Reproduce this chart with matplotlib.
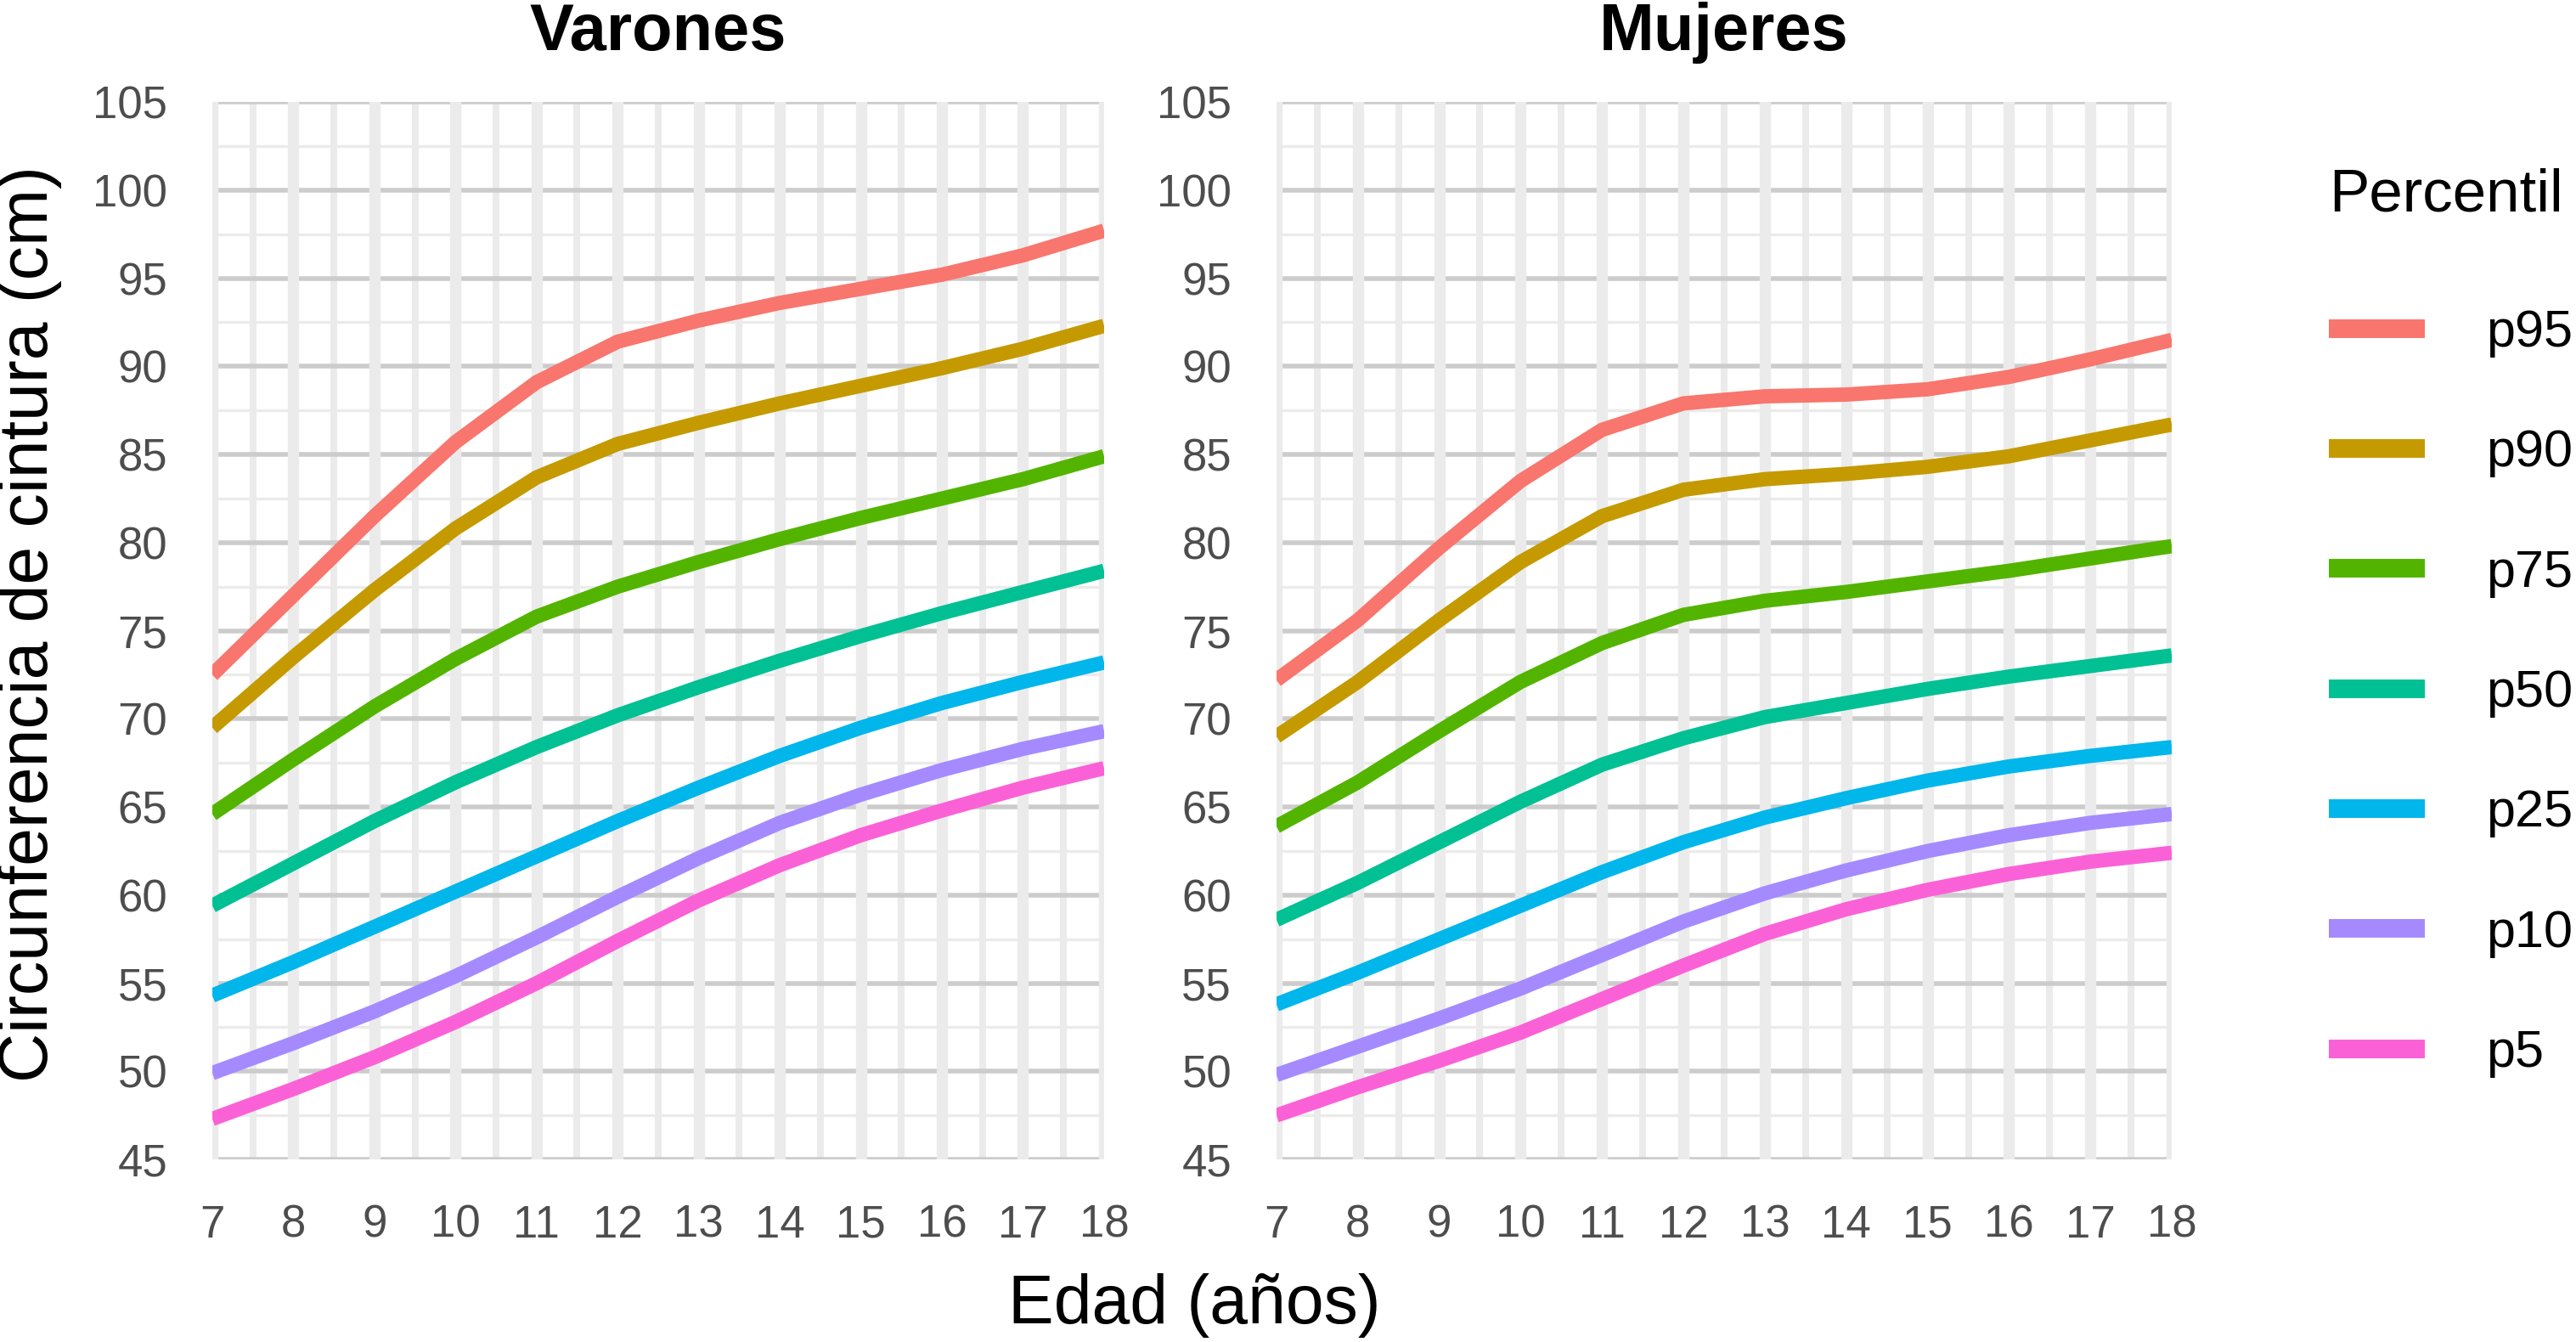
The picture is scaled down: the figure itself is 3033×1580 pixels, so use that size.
import matplotlib
matplotlib.use("Agg")
import matplotlib.pyplot as plt
from matplotlib.lines import Line2D

plt.rcParams['font.family'] = ['Liberation Sans', 'DejaVu Sans']

# edades
edad = [7, 8, 9, 10, 11, 12, 13, 14, 15, 16, 17, 18]

percentiles = ["p95", "p90", "p75", "p50", "p25", "p10", "p5"]
colores = ["#F8766D", "#C49A00", "#53B400", "#00C094", "#00B6EB", "#A58AFF", "#FB61D7"]

# varones
v_p95 = [72.5, 77.0, 81.5, 85.7, 89.1, 91.4, 92.6, 93.6, 94.4, 95.2, 96.3, 97.7]
v_p90 = [69.5, 73.5, 77.3, 80.8, 83.7, 85.6, 86.8, 87.9, 88.9, 89.9, 91.0, 92.3]
v_p75 = [64.6, 67.7, 70.7, 73.4, 75.8, 77.5, 78.9, 80.2, 81.4, 82.5, 83.6, 84.9]
v_p50 = [59.4, 61.8, 64.2, 66.4, 68.4, 70.2, 71.8, 73.3, 74.7, 76.0, 77.2, 78.4]
v_p25 = [54.3, 56.2, 58.2, 60.2, 62.2, 64.2, 66.1, 67.9, 69.5, 70.9, 72.1, 73.2]
v_p10 = [49.9, 51.6, 53.4, 55.4, 57.6, 59.9, 62.1, 64.1, 65.7, 67.1, 68.3, 69.3]
v_p5 = [47.3, 49.0, 50.8, 52.8, 55.0, 57.4, 59.7, 61.7, 63.4, 64.8, 66.1, 67.2]

# mujeres
m_p95 = [72.2, 75.6, 79.7, 83.5, 86.4, 87.9, 88.3, 88.4, 88.7, 89.4, 90.4, 91.5]
m_p90 = [69.0, 72.1, 75.6, 78.9, 81.5, 83.0, 83.6, 83.9, 84.3, 84.9, 85.8, 86.7]
m_p75 = [63.9, 66.4, 69.3, 72.1, 74.3, 75.9, 76.7, 77.2, 77.8, 78.4, 79.1, 79.8]
m_p50 = [58.6, 60.7, 63.0, 65.3, 67.4, 68.9, 70.1, 70.9, 71.7, 72.4, 73.0, 73.6]
m_p25 = [53.8, 55.6, 57.5, 59.4, 61.3, 63.0, 64.4, 65.5, 66.5, 67.3, 67.9, 68.4]
m_p10 = [49.8, 51.4, 53.0, 54.7, 56.6, 58.5, 60.1, 61.4, 62.5, 63.4, 64.1, 64.6]
m_p5 = [47.5, 49.1, 50.6, 52.2, 54.1, 56.0, 57.8, 59.2, 60.3, 61.2, 61.9, 62.4]

varones = [v_p95, v_p90, v_p75, v_p50, v_p25, v_p10, v_p5]
mujeres = [m_p95, m_p90, m_p75, m_p50, m_p25, m_p10, m_p5]

yticks = [45, 50, 55, 60, 65, 70, 75, 80, 85, 90, 95, 100, 105]

fig = plt.figure(figsize=(30.33, 15.8), dpi=100)
ax1 = fig.add_axes([0.0824, 0.136, 0.3462, 0.788])
ax2 = fig.add_axes([0.4955, 0.136, 0.3476, 0.788])


def panel(ax, datos, titulo):
    # grilla a mano: h menor < v menor < h mayor < v mayor
    for y in yticks[:-1]:
        ax.axhline(y + 2.5, color="#ebebeb", lw=2.4, zorder=1)
    for x in edad[:-1]:
        ax.axvline(x + 0.5, color="#ebebeb", lw=5.8, zorder=1.2)
    for y in yticks:
        ax.axhline(y, color="#cccccc", lw=4, zorder=1.4)
    for x in edad:
        ax.axvline(x, color="#ebebeb", lw=9.6, zorder=1.6)

    for serie, col, lab in zip(datos, colores, percentiles):
        ax.plot(edad, serie, color=col, lw=12.2, label=lab, zorder=3,
                solid_capstyle="butt", solid_joinstyle="round")

    ax.set_xlim(7, 18)
    ax.set_ylim(45, 105)
    ax.set_xticks(edad)
    ax.set_yticks(yticks)
    ax.tick_params(length=0, labelsize=38, labelcolor="#4d4d4d", pad=38)
    for s in ax.spines.values():
        s.set_visible(False)
    ax.set_title(titulo, fontsize=56, fontweight="bold", pad=44)


panel(ax1, varones, "Varones")
panel(ax2, mujeres, "Mujeres")

fig.text(0.0115, 0.535, "Circunferencia de cintura (cm)", rotation=90,
         fontsize=58, ha="center", va="center")
fig.text(0.4636, 0.027, "Edad (años)", fontsize=58, ha="center", va="center")

handles = [Line2D([], [], color=c, lw=15.8, solid_capstyle="butt") for c in colores]
leg = fig.legend(handles, percentiles, loc="upper left", bbox_to_anchor=(0.886, 0.9097),
                 frameon=False, fontsize=44, title="Percentil", title_fontsize=51,
                 handlelength=1.85, handletextpad=1.18, labelspacing=1.38)
leg._legend_box.align = "left"
leg._legend_box.sep += 11.5

fig.savefig("out.png", dpi=100)
